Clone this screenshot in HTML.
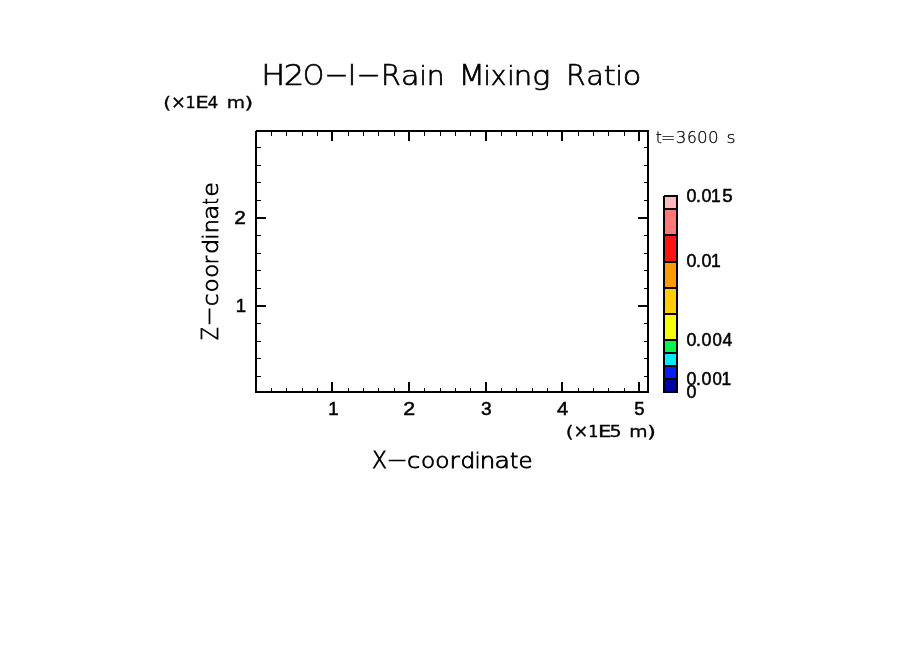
<!DOCTYPE html>
<html lang="en"><head><meta charset="utf-8"><title>H2O-I-Rain Mixing Ratio</title>
<style>
html,body{margin:0;padding:0;background:#fff;}
body{width:904px;height:654px;overflow:hidden;}
svg{display:block;}
text{fill:#000;}
</style></head>
<body>
<svg width="904" height="654" viewBox="0 0 904 654">
<rect width="904" height="654" fill="#fff"/>
<g shape-rendering="crispEdges" fill="#000">
<rect x="255" y="130" width="394" height="2"/>
<rect x="255" y="391" width="394" height="2"/>
<rect x="255" y="130" width="2" height="263"/>
<rect x="647" y="130" width="2" height="263"/>
<rect x="638" y="132" width="2" height="9"/>
<rect x="638" y="382" width="2" height="9"/>
<rect x="624" y="132" width="1" height="4"/>
<rect x="624" y="388" width="1" height="3"/>
<rect x="608" y="132" width="1" height="4"/>
<rect x="608" y="388" width="1" height="3"/>
<rect x="593" y="132" width="1" height="4"/>
<rect x="593" y="388" width="1" height="3"/>
<rect x="578" y="132" width="1" height="4"/>
<rect x="578" y="388" width="1" height="3"/>
<rect x="561" y="132" width="2" height="9"/>
<rect x="561" y="382" width="2" height="9"/>
<rect x="547" y="132" width="1" height="4"/>
<rect x="547" y="388" width="1" height="3"/>
<rect x="532" y="132" width="1" height="4"/>
<rect x="532" y="388" width="1" height="3"/>
<rect x="516" y="132" width="1" height="4"/>
<rect x="516" y="388" width="1" height="3"/>
<rect x="501" y="132" width="1" height="4"/>
<rect x="501" y="388" width="1" height="3"/>
<rect x="485" y="132" width="2" height="9"/>
<rect x="485" y="382" width="2" height="9"/>
<rect x="470" y="132" width="1" height="4"/>
<rect x="470" y="388" width="1" height="3"/>
<rect x="455" y="132" width="1" height="4"/>
<rect x="455" y="388" width="1" height="3"/>
<rect x="440" y="132" width="1" height="4"/>
<rect x="440" y="388" width="1" height="3"/>
<rect x="424" y="132" width="1" height="4"/>
<rect x="424" y="388" width="1" height="3"/>
<rect x="408" y="132" width="2" height="9"/>
<rect x="408" y="382" width="2" height="9"/>
<rect x="394" y="132" width="1" height="4"/>
<rect x="394" y="388" width="1" height="3"/>
<rect x="378" y="132" width="1" height="4"/>
<rect x="378" y="388" width="1" height="3"/>
<rect x="363" y="132" width="1" height="4"/>
<rect x="363" y="388" width="1" height="3"/>
<rect x="348" y="132" width="1" height="4"/>
<rect x="348" y="388" width="1" height="3"/>
<rect x="331" y="132" width="2" height="9"/>
<rect x="331" y="382" width="2" height="9"/>
<rect x="317" y="132" width="1" height="4"/>
<rect x="317" y="388" width="1" height="3"/>
<rect x="302" y="132" width="1" height="4"/>
<rect x="302" y="388" width="1" height="3"/>
<rect x="286" y="132" width="1" height="4"/>
<rect x="286" y="388" width="1" height="3"/>
<rect x="271" y="132" width="1" height="4"/>
<rect x="271" y="388" width="1" height="3"/>
<rect x="257" y="147" width="4" height="1"/>
<rect x="644" y="147" width="3" height="1"/>
<rect x="257" y="165" width="4" height="1"/>
<rect x="644" y="165" width="3" height="1"/>
<rect x="257" y="182" width="4" height="1"/>
<rect x="644" y="182" width="3" height="1"/>
<rect x="257" y="200" width="4" height="1"/>
<rect x="644" y="200" width="3" height="1"/>
<rect x="257" y="217" width="9" height="2"/>
<rect x="638" y="217" width="9" height="2"/>
<rect x="257" y="235" width="4" height="1"/>
<rect x="644" y="235" width="3" height="1"/>
<rect x="257" y="253" width="4" height="1"/>
<rect x="644" y="253" width="3" height="1"/>
<rect x="257" y="270" width="4" height="1"/>
<rect x="644" y="270" width="3" height="1"/>
<rect x="257" y="288" width="4" height="1"/>
<rect x="644" y="288" width="3" height="1"/>
<rect x="257" y="305" width="9" height="2"/>
<rect x="638" y="305" width="9" height="2"/>
<rect x="257" y="323" width="4" height="1"/>
<rect x="644" y="323" width="3" height="1"/>
<rect x="257" y="341" width="4" height="1"/>
<rect x="644" y="341" width="3" height="1"/>
<rect x="257" y="358" width="4" height="1"/>
<rect x="644" y="358" width="3" height="1"/>
<rect x="257" y="376" width="4" height="1"/>
<rect x="644" y="376" width="3" height="1"/>
</g>
<g shape-rendering="crispEdges">
<rect x="663" y="195" width="15" height="198" fill="#000"/>
<rect x="665" y="380" width="11" height="11" fill="#0000AA"/>
<rect x="665" y="367" width="11" height="11" fill="#0020F5"/>
<rect x="665" y="354" width="11" height="11" fill="#00EBFF"/>
<rect x="665" y="341" width="11" height="11" fill="#00F550"/>
<rect x="665" y="315" width="11" height="24" fill="#F5FF0A"/>
<rect x="665" y="289" width="11" height="24" fill="#FFCD00"/>
<rect x="665" y="263" width="11" height="24" fill="#FF9B00"/>
<rect x="665" y="236" width="11" height="25" fill="#FF1414"/>
<rect x="665" y="210" width="11" height="24" fill="#FF7878"/>
<rect x="665" y="197" width="11" height="11" fill="#FFB9BE"/>
<rect x="663" y="195" width="1" height="1" fill="#fff"/>
<rect x="255" y="130" width="1" height="1" fill="#fff"/>
</g>
<text font-family="'DejaVu Sans Light','DejaVu Sans','Liberation Sans',sans-serif" font-size="28.80" stroke="#000" stroke-width="0.7"><tspan x="261.20" y="84.50" textLength="23.98" lengthAdjust="spacingAndGlyphs">H</tspan><tspan x="283.84" y="84.50" textLength="20.51" lengthAdjust="spacingAndGlyphs">2</tspan><tspan x="302.89" y="84.50" textLength="21.13" lengthAdjust="spacingAndGlyphs">O</tspan><tspan x="324.89" y="82.80" textLength="23.51" lengthAdjust="spacingAndGlyphs">-</tspan><tspan x="347.78" y="84.50" textLength="8.49" lengthAdjust="spacingAndGlyphs">I</tspan><tspan x="356.87" y="82.80" textLength="23.65" lengthAdjust="spacingAndGlyphs">-</tspan><tspan x="380.97" y="84.50" textLength="19.78" lengthAdjust="spacingAndGlyphs">R</tspan><tspan x="401.09" y="84.50" textLength="18.57" lengthAdjust="spacingAndGlyphs" font-size="26.50">a</tspan><tspan x="419.53" y="84.50" textLength="7.36" lengthAdjust="spacingAndGlyphs" font-size="26.50">i</tspan><tspan x="426.68" y="84.50" textLength="17.87" lengthAdjust="spacingAndGlyphs" font-size="26.50">n</tspan> <tspan x="458.64" y="84.50" textLength="26.53" lengthAdjust="spacingAndGlyphs">M</tspan><tspan x="483.48" y="84.50" textLength="7.36" lengthAdjust="spacingAndGlyphs" font-size="26.50">i</tspan><tspan x="490.71" y="84.50" textLength="15.58" lengthAdjust="spacingAndGlyphs" font-size="26.50">x</tspan><tspan x="507.18" y="84.50" textLength="7.36" lengthAdjust="spacingAndGlyphs" font-size="26.50">i</tspan><tspan x="513.77" y="84.50" textLength="18.49" lengthAdjust="spacingAndGlyphs" font-size="26.50">n</tspan><tspan x="532.15" y="84.50" textLength="18.03" lengthAdjust="spacingAndGlyphs" font-size="26.50">g</tspan> <tspan x="566.17" y="84.50" textLength="19.25" lengthAdjust="spacingAndGlyphs">R</tspan><tspan x="586.31" y="84.50" textLength="17.69" lengthAdjust="spacingAndGlyphs" font-size="26.50">a</tspan><tspan x="603.85" y="84.50" textLength="11.99" lengthAdjust="spacingAndGlyphs" font-size="26.50">t</tspan><tspan x="615.58" y="84.50" textLength="7.36" lengthAdjust="spacingAndGlyphs" font-size="26.50">i</tspan><tspan x="622.87" y="84.50" textLength="18.57" lengthAdjust="spacingAndGlyphs" font-size="26.50">o</tspan></text>
<text font-family="'DejaVu Sans Light','DejaVu Sans','Liberation Sans',sans-serif" font-size="22.40" stroke="#000" stroke-width="0.8"><tspan x="372.08" y="468.20" textLength="14.89" lengthAdjust="spacingAndGlyphs">X</tspan><tspan x="386.97" y="466.80" textLength="20.21" lengthAdjust="spacingAndGlyphs">-</tspan><tspan x="406.96" y="468.20" textLength="13.17" lengthAdjust="spacingAndGlyphs" font-size="20.61">c</tspan><tspan x="420.92" y="468.20" textLength="14.18" lengthAdjust="spacingAndGlyphs" font-size="20.61">o</tspan><tspan x="435.26" y="468.20" textLength="14.24" lengthAdjust="spacingAndGlyphs" font-size="20.61">o</tspan><tspan x="449.53" y="468.20" textLength="10.14" lengthAdjust="spacingAndGlyphs" font-size="20.61">r</tspan><tspan x="460.49" y="468.20" textLength="14.83" lengthAdjust="spacingAndGlyphs" font-size="20.61">d</tspan><tspan x="474.72" y="468.20" textLength="5.73" lengthAdjust="spacingAndGlyphs" font-size="20.61">i</tspan><tspan x="479.82" y="468.20" textLength="15.57" lengthAdjust="spacingAndGlyphs" font-size="20.61">n</tspan><tspan x="494.53" y="468.20" textLength="15.49" lengthAdjust="spacingAndGlyphs" font-size="20.61">a</tspan><tspan x="509.91" y="468.20" textLength="8.22" lengthAdjust="spacingAndGlyphs" font-size="20.61">t</tspan><tspan x="518.54" y="468.20" textLength="14.10" lengthAdjust="spacingAndGlyphs" font-size="20.61">e</tspan></text>
<text font-family="'DejaVu Sans Light','DejaVu Sans','Liberation Sans',sans-serif" font-size="22.40" transform="rotate(-90)" stroke="#000" stroke-width="0.8"><tspan x="-340.09" y="218.00" textLength="12.83" lengthAdjust="spacingAndGlyphs">Z</tspan><tspan x="-326.01" y="216.40" textLength="19.26" lengthAdjust="spacingAndGlyphs">-</tspan><tspan x="-306.23" y="218.00" textLength="12.72" lengthAdjust="spacingAndGlyphs" font-size="20.61">c</tspan><tspan x="-292.33" y="218.00" textLength="13.77" lengthAdjust="spacingAndGlyphs" font-size="20.61">o</tspan><tspan x="-277.70" y="218.00" textLength="13.91" lengthAdjust="spacingAndGlyphs" font-size="20.61">o</tspan><tspan x="-264.27" y="218.00" textLength="8.34" lengthAdjust="spacingAndGlyphs" font-size="20.61">r</tspan><tspan x="-253.96" y="218.00" textLength="15.26" lengthAdjust="spacingAndGlyphs" font-size="20.61">d</tspan><tspan x="-239.40" y="218.00" textLength="5.73" lengthAdjust="spacingAndGlyphs" font-size="20.61">i</tspan><tspan x="-233.30" y="218.00" textLength="14.27" lengthAdjust="spacingAndGlyphs" font-size="20.61">n</tspan><tspan x="-219.67" y="218.00" textLength="15.12" lengthAdjust="spacingAndGlyphs" font-size="20.61">a</tspan><tspan x="-204.44" y="218.00" textLength="6.23" lengthAdjust="spacingAndGlyphs" font-size="20.61">t</tspan><tspan x="-196.78" y="218.00" textLength="14.63" lengthAdjust="spacingAndGlyphs" font-size="20.61">e</tspan></text>
<text font-family="'DejaVu Sans','Liberation Sans',sans-serif" font-size="16.00" stroke="#000" stroke-width="0.3"><tspan x="565.77" y="436.70" textLength="7.83" lengthAdjust="spacingAndGlyphs">(</tspan><tspan x="573.57" y="437.00" textLength="14.86" lengthAdjust="spacingAndGlyphs" font-size="18.40">×</tspan><tspan x="588.17" y="437.20" textLength="10.18" lengthAdjust="spacingAndGlyphs">1</tspan><tspan x="597.91" y="437.20" textLength="13.45" lengthAdjust="spacingAndGlyphs">E</tspan><tspan x="609.53" y="437.20" textLength="12.14" lengthAdjust="spacingAndGlyphs">5</tspan> <tspan x="629.29" y="437.20" textLength="18.30" lengthAdjust="spacingAndGlyphs">m</tspan><tspan x="647.21" y="436.70" textLength="8.70" lengthAdjust="spacingAndGlyphs">)</tspan></text>
<text font-family="'DejaVu Sans','Liberation Sans',sans-serif" font-size="16.00" stroke="#000" stroke-width="0.3"><tspan x="163.17" y="107.70" textLength="7.83" lengthAdjust="spacingAndGlyphs">(</tspan><tspan x="170.97" y="108.00" textLength="14.86" lengthAdjust="spacingAndGlyphs" font-size="18.40">×</tspan><tspan x="185.57" y="108.20" textLength="10.18" lengthAdjust="spacingAndGlyphs">1</tspan><tspan x="195.31" y="108.20" textLength="13.45" lengthAdjust="spacingAndGlyphs">E</tspan><tspan x="207.57" y="108.20" textLength="10.78" lengthAdjust="spacingAndGlyphs">4</tspan> <tspan x="226.69" y="108.20" textLength="18.30" lengthAdjust="spacingAndGlyphs">m</tspan><tspan x="244.61" y="107.70" textLength="8.70" lengthAdjust="spacingAndGlyphs">)</tspan></text>
<text font-family="'DejaVu Sans Light','DejaVu Sans','Liberation Sans',sans-serif" font-size="15.80" stroke="#000" stroke-width="0.25"><tspan x="655.63" y="142.60" textLength="6.20" lengthAdjust="spacingAndGlyphs">t</tspan><tspan x="660.94" y="142.60" textLength="14.32" lengthAdjust="spacingAndGlyphs">=</tspan><tspan x="675.68" y="142.60" textLength="10.63" lengthAdjust="spacingAndGlyphs">3</tspan><tspan x="687.05" y="142.60" textLength="9.85" lengthAdjust="spacingAndGlyphs">6</tspan><tspan x="696.95" y="142.60" textLength="10.65" lengthAdjust="spacingAndGlyphs">0</tspan><tspan x="708.05" y="142.60" textLength="10.65" lengthAdjust="spacingAndGlyphs">0</tspan> <tspan x="726.64" y="142.60" textLength="9.05" lengthAdjust="spacingAndGlyphs">s</tspan></text>
<text font-family="'Liberation Sans','DejaVu Sans',sans-serif" font-size="18.60" stroke="#000" stroke-width="0.5"><tspan x="328.37" y="414.70" textLength="10.34" lengthAdjust="spacingAndGlyphs">1</tspan></text>
<text font-family="'Liberation Sans','DejaVu Sans',sans-serif" font-size="18.60" stroke="#000" stroke-width="0.5"><tspan x="403.15" y="414.70" textLength="11.90" lengthAdjust="spacingAndGlyphs">2</tspan></text>
<text font-family="'Liberation Sans','DejaVu Sans',sans-serif" font-size="18.60" stroke="#000" stroke-width="0.5"><tspan x="481.00" y="414.70" textLength="10.62" lengthAdjust="spacingAndGlyphs">3</tspan></text>
<text font-family="'Liberation Sans','DejaVu Sans',sans-serif" font-size="18.60" stroke="#000" stroke-width="0.5"><tspan x="557.06" y="414.70" textLength="11.31" lengthAdjust="spacingAndGlyphs">4</tspan></text>
<text font-family="'Liberation Sans','DejaVu Sans',sans-serif" font-size="18.60" stroke="#000" stroke-width="0.5"><tspan x="634.29" y="414.70" textLength="10.26" lengthAdjust="spacingAndGlyphs">5</tspan></text>
<text font-family="'Liberation Sans','DejaVu Sans',sans-serif" font-size="18.60" stroke="#000" stroke-width="0.5"><tspan x="235.77" y="311.90" textLength="10.34" lengthAdjust="spacingAndGlyphs">1</tspan></text>
<text font-family="'Liberation Sans','DejaVu Sans',sans-serif" font-size="18.60" stroke="#000" stroke-width="0.5"><tspan x="234.38" y="223.60" textLength="11.54" lengthAdjust="spacingAndGlyphs">2</tspan></text>
<text font-family="'Liberation Sans','DejaVu Sans',sans-serif" font-size="17.50" stroke="#000" stroke-width="0.5"><tspan x="686.53" y="202.00" textLength="9.95" lengthAdjust="spacingAndGlyphs">0</tspan><tspan x="695.97" y="202.00" textLength="4.86" lengthAdjust="spacingAndGlyphs">.</tspan><tspan x="701.53" y="202.00" textLength="9.95" lengthAdjust="spacingAndGlyphs">0</tspan><tspan x="711.09" y="202.00" textLength="9.73" lengthAdjust="spacingAndGlyphs">1</tspan><tspan x="722.28" y="202.00" textLength="10.38" lengthAdjust="spacingAndGlyphs">5</tspan></text>
<text font-family="'Liberation Sans','DejaVu Sans',sans-serif" font-size="17.50" stroke="#000" stroke-width="0.5"><tspan x="686.53" y="267.00" textLength="9.95" lengthAdjust="spacingAndGlyphs">0</tspan><tspan x="695.97" y="267.00" textLength="4.86" lengthAdjust="spacingAndGlyphs">.</tspan><tspan x="701.53" y="267.00" textLength="9.95" lengthAdjust="spacingAndGlyphs">0</tspan><tspan x="711.09" y="267.00" textLength="9.73" lengthAdjust="spacingAndGlyphs">1</tspan></text>
<text font-family="'Liberation Sans','DejaVu Sans',sans-serif" font-size="17.50" stroke="#000" stroke-width="0.5"><tspan x="686.53" y="346.00" textLength="9.95" lengthAdjust="spacingAndGlyphs">0</tspan><tspan x="695.97" y="346.00" textLength="4.86" lengthAdjust="spacingAndGlyphs">.</tspan><tspan x="701.53" y="346.00" textLength="9.95" lengthAdjust="spacingAndGlyphs">0</tspan><tspan x="712.57" y="346.00" textLength="9.37" lengthAdjust="spacingAndGlyphs">0</tspan><tspan x="722.62" y="346.00" textLength="9.77" lengthAdjust="spacingAndGlyphs">4</tspan></text>
<text font-family="'Liberation Sans','DejaVu Sans',sans-serif" font-size="17.50" stroke="#000" stroke-width="0.5"><tspan x="686.53" y="384.80" textLength="9.95" lengthAdjust="spacingAndGlyphs">0</tspan><tspan x="695.97" y="384.80" textLength="4.86" lengthAdjust="spacingAndGlyphs">.</tspan><tspan x="701.53" y="384.80" textLength="9.95" lengthAdjust="spacingAndGlyphs">0</tspan><tspan x="712.57" y="384.80" textLength="9.37" lengthAdjust="spacingAndGlyphs">0</tspan><tspan x="721.39" y="384.80" textLength="9.73" lengthAdjust="spacingAndGlyphs">1</tspan></text>
<text font-family="'Liberation Sans','DejaVu Sans',sans-serif" font-size="17.50" stroke="#000" stroke-width="0.5"><tspan x="686.53" y="397.80" textLength="9.95" lengthAdjust="spacingAndGlyphs">0</tspan></text>
</svg>
</body></html>
